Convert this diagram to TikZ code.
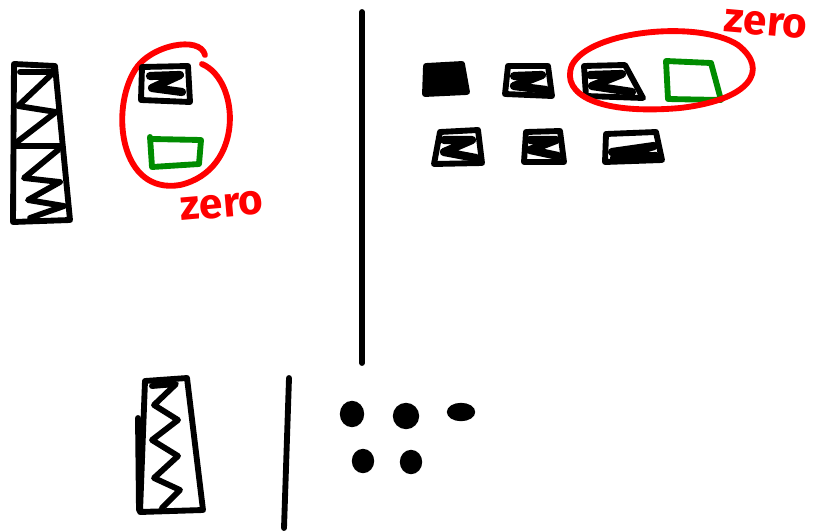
\documentclass[tikz,border=0pt]{standalone}
\usepackage{fontspec}
\newfontfamily\handfont{Fira Sans}
\usetikzlibrary{positioning}

\begin{document}
\begin{tikzpicture}[
    x=0.03cm, y=-0.03cm,
    pen/.style={line width=5pt, line cap=round, line join=round},
    blackpen/.style={pen, draw=black},
    scribble/.style={blackpen, line width=7pt},
    redpen/.style={pen, draw=red},
    greenpen/.style={pen, draw=green!55!black},
    dot/.style={fill=black, draw=black, line width=2pt},
    label/.style={text=red, font=\handfont\bfseries\fontsize{36}{36}\selectfont, inner sep=0pt}
]
    \useasboundingbox (0,0) rectangle (824,530);

    % left tower
    \draw[blackpen] (14,64) -- (13,222) -- (70,220) -- (55,66) -- cycle;
    \draw[blackpen] (20,72) -- (54,72) -- (18,106) -- (56,112) -- (17,142);
    \draw[blackpen] (14,146) -- (61,146);
    \draw[blackpen] (58,150) -- (24,178) -- (60,182) -- (28,200) -- (64,206) -- (30,218);

    % left group
    \draw[redpen] (202,64) .. controls (240,80) and (245,170) .. (180,185)
        .. controls (120,195) and (110,110) .. (135,70)
        .. controls (150,45) and (200,35) .. (205,55);
    \draw[blackpen] (142,67) -- (188,66) -- (190,102) -- (141,100) -- cycle;
    \draw[scribble] (150,76) -- (180,75) -- (152,88) -- (182,92);
    \draw[greenpen] (150,137) -- (152,167) -- (199,164) -- (201,140) -- (152,139);
    \node[label, rotate=5] (zeroleft) at (222,206) {zero};

    % divider
    \draw[blackpen] (362,12) -- (362,363);

    % top right row
    \filldraw[blackpen, fill=black] (426,66) -- (462,64) -- (467,92) -- (425,94) -- cycle;
    \draw[blackpen] (508,66) -- (548,66) -- (552,96) -- (505,94) -- cycle;
    \draw[scribble] (514,76) -- (542,75) -- (514,86) -- (546,90);
    \draw[blackpen] (584,66) -- (625,65) -- (643,98) -- (586,96) -- cycle;
    \draw[scribble] (590,75) -- (622,74) -- (592,86) -- (632,92);
    \draw[greenpen] (666,61) -- (668,99) -- (721,100) -- (711,63) -- cycle;
    \draw[redpen] (738,45) .. controls (770,70) and (750,100) .. (680,108)
        .. controls (600,115) and (560,95) .. (572,65)
        .. controls (590,30) and (700,20) .. (738,45);
    \node[label, rotate=-5] (zeroright) at (766,24) {zero};

    % top right second row
    \draw[blackpen] (440,132) -- (478,130) -- (482,163) -- (434,164) -- cycle;
    \draw[scribble] (444,140) -- (472,140) -- (444,152) -- (476,158);
    \draw[blackpen] (526,132) -- (560,131) -- (564,162) -- (524,162) -- cycle;
    \draw[scribble] (530,140) -- (556,140) -- (530,150) -- (558,156);
    \draw[blackpen] (606,134) -- (656,132) -- (662,160) -- (605,162) -- cycle;
    \draw[scribble] (612,152) -- (654,146) -- (614,158) -- (656,156);

    % bottom tower
    \draw[blackpen] (145,381) -- (187,378) -- (203,510) -- (140,512) -- cycle;
    \draw[blackpen] (138,418) -- (139,510);
    \draw[blackpen] (152,386) -- (176,384) -- (154,405) -- (178,420)
        -- (152,440) -- (178,456) -- (154,478) -- (180,490) -- (162,508);

    % bottom divider
    \draw[blackpen] (289,378) -- (284,528);

    % dots
    \filldraw[dot] (352,414) ellipse (11 and 12);
    \filldraw[dot] (406,416) ellipse (12 and 12);
    \filldraw[dot] (461,412) ellipse (13 and 8);
    \filldraw[dot] (363,461) ellipse (10 and 11);
    \filldraw[dot] (411,462) ellipse (10 and 11);
\end{tikzpicture}
\end{document}
